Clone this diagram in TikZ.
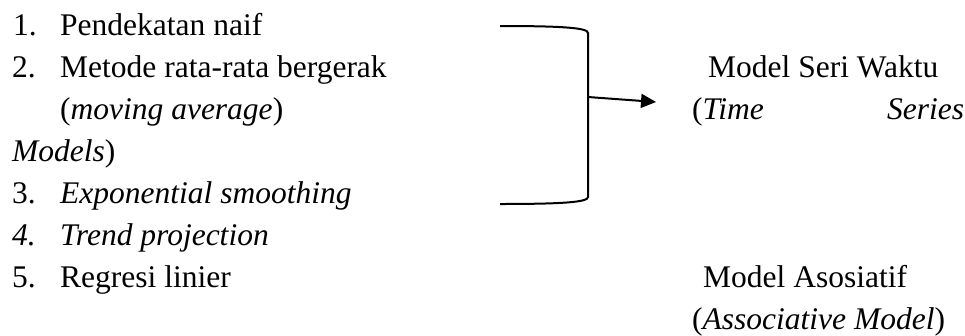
\documentclass[tikz,border=0pt]{standalone}
\usepackage{fontspec}
\setmainfont{Liberation Serif}
\usetikzlibrary{arrows.meta}
\begin{document}
\begin{tikzpicture}[x=1pt,y=-1pt,
  txt/.style={anchor=base west,inner sep=0pt,font=\fontsize{31.5}{38}\selectfont},
  brk/.style={line width=2pt},
  arr/.style={line width=2pt,-{Triangle[length=15pt,width=14pt]}}]
\useasboundingbox (0,0) rectangle (965,335);
% left list
\node[txt] (n1) at (13,35) {1.};
\node[txt] (t1) at (60,35) {Pendekatan naif};
\node[txt] (n2) at (12,77) {2.};
\node[txt] (t2) at (60,77) {Metode rata-rata bergerak};
\node[txt] (t2b) at (60,119) {(\textit{moving average})};
\node[txt] (t2c) at (12,161) {\textit{Models})};
\node[txt] (n3) at (12,203) {3.};
\node[txt] (t3) at (60,203) {\textit{Exponential smoothing}};
\node[txt] (n4) at (12,245) {\textit{4.}};
\node[txt] (t4) at (60,245) {\textit{Trend projection}};
\node[txt] (n5) at (12,287) {5.};
\node[txt] (t5) at (60,287) {Regresi linier};
% right labels
\node[txt] (ts1) at (708,77) {Model Seri Waktu};
\node[txt] (ts2) at (692,119) {(\textit{Time}};
\node[txt] (ts3) at (887,119) {\textit{Series}};
\node[txt] (as1) at (703,287) {Model Asosiatif};
\node[txt] (as2) at (692,329) {(\textit{Associative Model})};
% bracket
\coordinate (btop) at (500,26);
\coordinate (bbot) at (500,204);
\coordinate (bmid) at (588,97);
\coordinate (atip) at (656,102);
\draw[brk] (btop) .. controls (565,26) and (588,28) .. (588,33)
  -- (588,197) .. controls (588,202) and (565,204) .. (bbot);
\draw[arr] (bmid) -- (atip);
\end{tikzpicture}
\end{document}
